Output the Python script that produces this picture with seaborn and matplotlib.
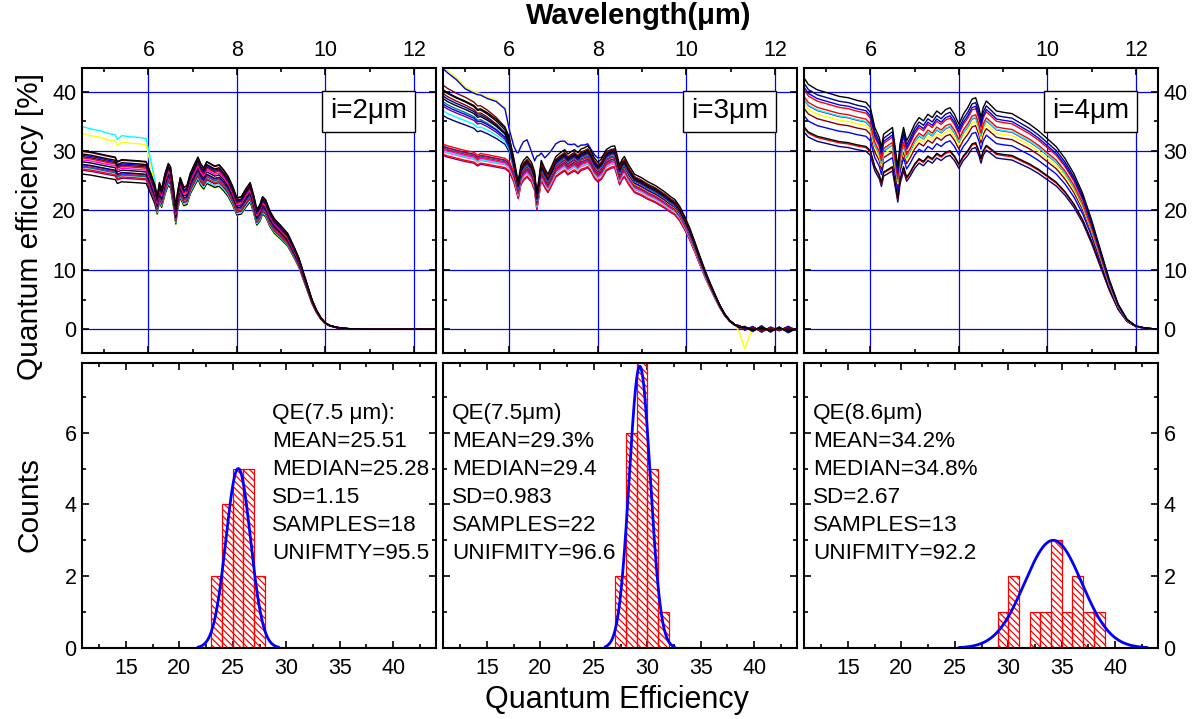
import numpy as np
import pandas as pd
import matplotlib
matplotlib.use("Agg")
import matplotlib.pyplot as plt
from matplotlib.ticker import MultipleLocator
import seaborn as sns

# ---------------- spectral QE curves (top row) ----------------
# central QE profile for each pixel pitch, in % versus wavelength in um
wl_2um = [4.5, 4.7, 4.9, 5.1, 5.25, 5.3, 5.4, 5.6, 5.8, 5.95, 6.05, 6.15, 6.2, 6.25,
          6.3, 6.38, 6.45, 6.5, 6.57, 6.62, 6.66, 6.72, 6.8, 6.87, 6.95, 7.05, 7.12,
          7.18, 7.25, 7.32, 7.4, 7.5, 7.6, 7.7, 7.8, 7.9, 8.0, 8.1, 8.2, 8.3, 8.38,
          8.45, 8.52, 8.58, 8.65, 8.75, 8.85, 9.0, 9.15, 9.3, 9.4, 9.5, 9.6, 9.7,
          9.8, 9.9, 10.0, 10.1, 10.25, 10.5, 11.0, 12.5]
qe_2um = [28.0, 27.8, 27.5, 27.2, 27.0, 26.3, 26.6, 26.5, 26.4, 26.3, 24.5, 22.5, 20.8,
          23.0, 22.0, 24.5, 26.0, 25.5, 22.0, 19.0, 21.5, 23.8, 22.3, 22.5, 24.5, 26.0,
          27.0, 26.0, 25.3, 26.3, 26.0, 25.6, 25.8, 25.0, 24.0, 22.5, 20.6, 20.8, 22.0,
          23.0, 21.0, 18.8, 19.5, 20.8, 20.3, 18.5, 17.3, 16.2, 15.0, 12.8, 11.2, 9.0,
          6.8, 4.6, 3.0, 1.8, 1.0, 0.6, 0.3, 0.1, 0.0, 0.0]
# extra short-wave response of the two high-starting curves
excess_2um = [7.0, 6.8, 6.8, 6.6, 6.6, 6.5, 6.8, 6.7, 6.7, 6.6, 5.0, 3.5]

wl_3um = [4.5, 4.6, 4.8, 5.0, 5.2, 5.28, 5.35, 5.5, 5.7, 5.9, 6.0, 6.1, 6.17, 6.2,
          6.26, 6.32, 6.4, 6.5, 6.57, 6.62, 6.67, 6.72, 6.8, 6.87, 6.95, 7.05, 7.15,
          7.25, 7.32, 7.4, 7.47, 7.55, 7.62, 7.7, 7.77, 7.85, 7.92, 8.0, 8.08, 8.19,
          8.3, 8.38, 8.44, 8.49, 8.55, 8.6, 8.7, 8.83, 9.0, 9.13, 9.3, 9.51, 9.65,
          9.74, 9.85, 9.97, 10.08, 10.19, 10.3, 10.42, 10.54, 10.65, 10.76, 10.87,
          10.98, 11.1, 11.2, 11.32, 11.5, 11.7, 11.9, 12.1, 12.3, 12.5]
qe_3um = [31.3, 31.0, 30.6, 30.2, 29.9, 29.4, 29.7, 29.5, 29.2, 28.9, 28.3, 26.5, 24.5,
          23.5, 26.0, 26.8, 27.4, 26.5, 25.0, 21.5, 24.0, 26.8, 25.5, 24.6, 25.8, 27.4,
          28.0, 28.5, 27.8, 28.2, 28.5, 28.0, 28.6, 28.8, 29.1, 28.3, 27.2, 26.5, 27.0,
          28.5, 29.0, 29.1, 27.5, 26.0, 27.0, 27.4, 26.0, 24.6, 24.0, 23.4, 22.8, 21.8,
          21.0, 20.6, 19.5, 17.8, 16.0, 13.9, 11.7, 9.4, 7.3, 5.5, 3.8, 2.4, 1.4, 0.7,
          0.4, 0.2, 0.0, 0.1, -0.1, 0.1, -0.1, 0.0]
# short-wave surplus of the upper group of curves
excess_3um_upper = [6.5, 6.3, 6.0, 5.8, 5.4, 5.3, 5.1, 4.7, 4.0, 3.0, 2.0, 0.6]
# surplus of the two outlying curves (yellow, blue)
excess_3um_outlier = [13.2, 12.8, 12.0, 10.8, 10.3, 10.6, 10.2, 9.8, 9.6, 8.6, 5.5,
                      4.5, 5.5, 6.5, 5.0, 5.0, 4.7, 3.5, 3.5, 8.0, 5.5, 3.0, 3.5, 5.0,
                      4.5, 4.0, 3.8, 3.3, 3.5, 3.0, 2.8, 2.8, 2.5, 2.3, 2.2, 2.0, 2.3,
                      2.4, 2.0, 1.5, 1.2, 1.2, 0.8, 0.5, 0.3]
# ripple of the flat tail beyond cut-off (11.5 - 12.5 um) and the yellow glitch
tail_3um = [0.0] * 66 + [0.2, -0.3, 0.4, -0.5, 0.4, -0.3, 0.5, -0.2]
glitch_3um = [0.0] * 66 + [-1.2, -3.2]
weight_3um_tail = [1.0, -0.8, 0.5, 0, 1.0, -0.5, 0, 0.8, 1.0, 0, 1.2, -1.0, 0.6, 0,
                   -0.7, 0.9, 0, 0.5, -0.4, 0, 0.8, -0.6]

wl_4um = [4.5, 4.6, 4.8, 5.0, 5.3, 5.5, 5.7, 5.9, 6.0, 6.1, 6.2, 6.25, 6.3, 6.4, 6.5,
          6.57, 6.62, 6.67, 6.75, 6.82, 6.9, 7.0, 7.1, 7.2, 7.3, 7.4, 7.5, 7.6, 7.7,
          7.8, 7.9, 8.0, 8.1, 8.2, 8.3, 8.38, 8.45, 8.5, 8.55, 8.62, 8.7, 8.85, 9.0,
          9.2, 9.4, 9.6, 9.8, 10.0, 10.2, 10.4, 10.6, 10.8, 11.0, 11.2, 11.4, 11.6,
          11.8, 12.0, 12.2, 12.5]
qe_4um = [38.0, 37.0, 36.2, 35.8, 35.2, 35.0, 34.6, 34.3, 33.5, 30.5, 29.0, 27.5, 29.5,
          30.0, 30.5, 27.0, 24.5, 28.0, 30.5, 28.5, 29.5, 31.0, 32.0, 31.5, 32.5, 32.0,
          33.0, 32.5, 33.2, 33.5, 32.5, 31.0, 32.5, 33.5, 34.8, 35.0, 33.5, 32.0, 33.5,
          34.5, 34.0, 33.0, 32.8, 32.6, 31.8, 31.0, 30.0, 28.8, 27.6, 25.8, 23.5, 20.5,
          16.5, 12.0, 7.5, 3.8, 1.5, 0.5, 0.2, 0.0]

# ---------------- QE samples at the reference wavelength ----------------
qe_samples_2um = [23.7, 23.82, 24.1, 24.4, 24.6, 24.9, 25.1, 25.2, 25.25, 25.31, 25.7,
                  26.0, 26.3, 26.5, 26.7, 26.9, 27.3, 27.4]
qe_samples_3um = [27.4, 27.6, 28.05, 28.2, 28.4, 28.6, 28.8, 28.9, 29.1, 29.2, 29.35,
                  29.45, 29.6, 29.7, 29.8, 29.9, 30.05, 30.1, 30.3, 30.4, 30.6, 31.1]
qe_samples_4um = [29.9, 30.5, 30.7, 32.4, 33.5, 34.2, 34.8, 34.9, 35.3, 36.3, 36.7,
                  37.3, 38.1]

colors_2um = ["yellow", "black", "cyan", "#800080", "red", "#008080", "blue", "#ff69b4",
              "red", "#000080", "black", "magenta", "red", "#800000", "blue", "black",
              "#800000", "black"]
weight_2um = [1.0, 0, 1.1, 0, 0, 0, 0, 0, 0, 0, 0, 0, 0, 0, 0, 0, 0, 0]

colors_3um = ["#800080", "red", "#ff69b4", "cyan", "magenta", "red", "#008080", "#800080",
              "yellow", "red", "blue", "#000080", "cyan", "#800080", "#008080",
              "#800000", "blue", "#000080", "black", "black", "#800000", "black"]
weight_3um_upper = [0, 0, 0, 0, 0, 0, 0, 0, 0, 0, 0, 0.7, 0.8, 0.9, 1.0, 1.2, 0.9,
                    1.1, 1.0, 1.2, 1.3, 1.1]
weight_3um_outlier = [0, 0, 0, 0, 0, 0, 0, 0, 1.0, 0, 0.95, 0, 0, 0, 0, 0, 0, 0, 0, 0,
                      0, 0]
weight_3um_glitch = [0, 0, 0, 0, 0, 0, 0, 0, 1.0, 0, 0, 0, 0, 0, 0, 0, 0, 0, 0, 0, 0, 0]

colors_4um = ["#000080", "red", "black", "blue", "#800000", "yellow", "#800080", "cyan",
              "red", "red", "blue", "#000080", "black"]

# ---------------- histogram fits ----------------
fit_mean = [25.51, 29.3, 34.2]
fit_sd = [1.15, 0.983, 2.67]
fit_peak = [5.0, 7.85, 3.0]
bin_start = [23, 27, 29]
bin_stop = [28, 32, 39]

pitch_labels = ["i=2\u03bcm", "i=3\u03bcm", "i=4\u03bcm"]
stats_text = [
    ["QE(7.5 \u03bcm):", "MEAN=25.51", "MEDIAN=25.28", "SD=1.15", "SAMPLES=18",
     "UNIFMTY=95.5"],
    ["QE(7.5\u03bcm)", "MEAN=29.3%", "MEDIAN=29.4", "SD=0.983", "SAMPLES=22",
     "UNIFMITY=96.6"],
    ["QE(8.6\u03bcm)", "MEAN=34.2%", "MEDIAN=34.8%", "SD=2.67", "SAMPLES=13",
     "UNIFMITY=92.2"],
]


def curve_frame(wl, base, samples, components):
    """Build a long-form frame: each curve is the base profile scaled by its
    sample QE, plus weighted surplus profiles."""
    wl = np.asarray(wl, float)
    base = np.asarray(base, float)
    ref = np.mean(samples)
    rows = []
    for i, v in enumerate(samples):
        q = base * v / ref
        for prof, weights in components:
            p = np.zeros_like(base)
            p[: len(prof)] = prof
            q = q + weights[i] * p
        rows.append(pd.DataFrame({"wl": wl, "qe": q, "curve": f"c{i:02d}"}))
    return pd.concat(rows, ignore_index=True)


top_data = [
    (curve_frame(wl_2um, qe_2um, qe_samples_2um, [(excess_2um, weight_2um)]), colors_2um),
    (curve_frame(wl_3um, qe_3um, qe_samples_3um,
                 [(excess_3um_upper, weight_3um_upper),
                  (excess_3um_outlier, weight_3um_outlier),
                  (tail_3um, weight_3um_tail),
                  (glitch_3um, weight_3um_glitch)]), colors_3um),
    (curve_frame(wl_4um, qe_4um, qe_samples_4um, []), colors_4um),
]
samples_all = [qe_samples_2um, qe_samples_3um, qe_samples_4um]

# ---------------- figure ----------------
sns.set_theme(style="ticks")
plt.rcParams["font.family"] = ["Liberation Sans", "DejaVu Sans"]
plt.rcParams["text.color"] = "black"
plt.rcParams["axes.labelcolor"] = "black"
plt.rcParams["xtick.color"] = "black"
plt.rcParams["ytick.color"] = "black"
plt.rcParams["hatch.color"] = "red"
plt.rcParams["hatch.linewidth"] = 0.9

W, H = 1193, 719
fig = plt.figure(figsize=(W / 100, H / 100), dpi=100)
fig.patch.set_facecolor("white")

col_left = [82, 443, 804]
col_w = 354
top_row = (68, 353)
bot_row = (363, 648)


def frac_rect(x0, y0, y1):
    return [x0 / W, 1 - y1 / H, col_w / W, (y1 - y0) / H]


def style_axes(ax):
    ax.set_facecolor("white")
    for s in ax.spines.values():
        s.set_color("black")
        s.set_linewidth(1.5)
    ax.tick_params(which="both", direction="in", top=True, right=True, bottom=True,
                   left=True, colors="black", labelcolor="black", labelsize=15.5,
                   width=1.2)
    ax.tick_params(which="major", length=5)
    ax.tick_params(which="minor", length=3)
    ax.set_xlabel("")
    ax.set_ylabel("")


for k in range(3):
    # --- spectral response ---
    ax = fig.add_axes(frac_rect(col_left[k], *top_row))
    df, cols = top_data[k]
    pal = {f"c{i:02d}": c for i, c in enumerate(cols)}
    sns.lineplot(data=df, x="wl", y="qe", hue="curve", palette=pal, estimator=None,
                 sort=False, legend=False, linewidth=1.0, ax=ax)
    ax.set_xlim(4.5, 12.5)
    ax.set_ylim(-4, 44)
    ax.xaxis.set_major_locator(MultipleLocator(2))
    ax.xaxis.set_minor_locator(MultipleLocator(1))
    ax.yaxis.set_major_locator(MultipleLocator(10))
    ax.yaxis.set_minor_locator(MultipleLocator(5))
    ax.grid(True, which="major", color="blue", linewidth=0.9)
    ax.set_axisbelow(True)
    style_axes(ax)
    ax.tick_params(axis="x", which="both", labeltop=True, labelbottom=False, pad=5)
    ax.tick_params(axis="y", which="both", labelleft=(k == 0), labelright=(k == 2),
                   pad=4)
    ax.text(0.81, 0.848, pitch_labels[k], transform=ax.transAxes, fontsize=20,
            ha="center", va="center", zorder=5,
            bbox=dict(boxstyle="square,pad=0.28", facecolor="white",
                      edgecolor="black", linewidth=1.0))

    # --- QE distribution ---
    axh = fig.add_axes(frac_rect(col_left[k], *bot_row))
    edges = np.arange(bin_start[k], bin_stop[k] + 0.5, 1.0)
    sns.histplot(x=samples_all[k], bins=edges, color="red", ax=axh)
    for p in axh.patches:
        p.set_facecolor("none")
        p.set_edgecolor("red")
        p.set_linewidth(0.9)
        p.set_hatch("\\\\\\\\\\")
    m, s, a = fit_mean[k], fit_sd[k], fit_peak[k]
    gx = np.linspace(m - 3.3 * s, m + 3.3 * s, 300)
    gy = a * np.exp(-0.5 * ((gx - m) / s) ** 2)
    sns.lineplot(x=gx, y=gy, color="blue", linewidth=2.0, ax=axh)
    axh.set_xlim(10.9, 44)
    axh.set_ylim(0, 7.94)
    axh.xaxis.set_major_locator(MultipleLocator(5))
    axh.xaxis.set_minor_locator(MultipleLocator(2.5))
    axh.yaxis.set_major_locator(MultipleLocator(2))
    axh.yaxis.set_minor_locator(MultipleLocator(1))
    style_axes(axh)
    axh.tick_params(axis="x", which="both", labelbottom=True, labeltop=False, pad=7)
    axh.tick_params(axis="y", which="both", labelleft=(k == 0), labelright=(k == 2),
                    pad=4)
    tx = 0.538 if k == 0 else 0.026
    for j, line in enumerate(stats_text[k]):
        axh.text(tx, 0.823 - j * 0.0982, line, transform=axh.transAxes, fontsize=16.2,
                 ha="left", va="center", color="black")

fig.text(639 / W, 1 - 16 / H, "Wavelength(\u03bcm)", fontsize=21, fontweight="bold",
         ha="center", va="center", color="black")
fig.text(617 / W, 1 - 700 / H, "Quantum Efficiency", fontsize=22, ha="center",
         va="center", color="black")
fig.text(30 / W, 1 - 227 / H, "Quantum efficiency [%]", fontsize=21.5, ha="center",
         va="center", rotation=90, color="black")
fig.text(30 / W, 1 - 505 / H, "Counts", fontsize=21.5, ha="center", va="center",
         rotation=90, color="black")

fig.savefig("out.png", dpi=100, facecolor="white")
